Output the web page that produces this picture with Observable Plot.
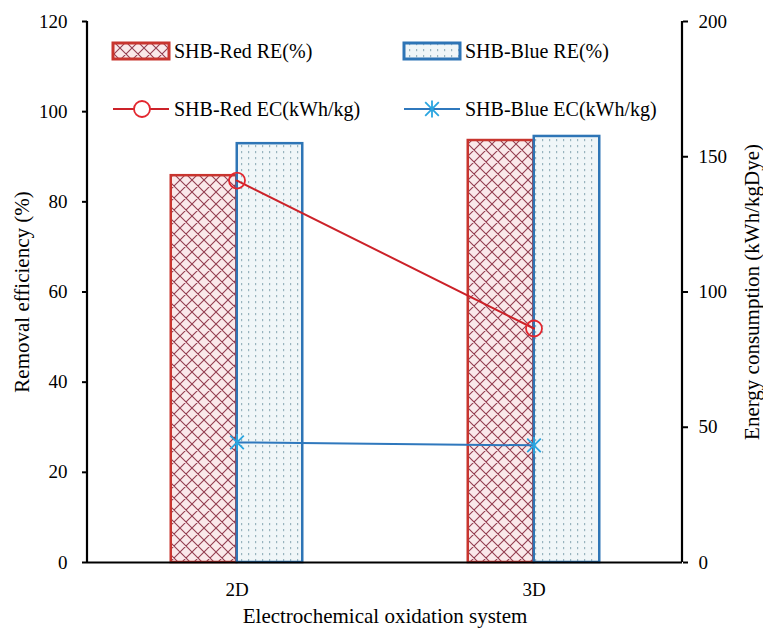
<!DOCTYPE html>
<html><head><meta charset="utf-8">
<script src="https://cdn.jsdelivr.net/npm/d3@7"></script>
<script src="https://cdn.jsdelivr.net/npm/@observablehq/plot@0.6"></script>
<style>body{margin:0;background:#fff}</style>
</head><body><div id="chart"></div>
<script>
// ---- data ----
const categories = ["2D", "3D"];
const redRE = [85.8, 93.6];
const blueRE = [92.9, 94.5];
const redEC = [141.2, 86.5];
const blueEC = [44.4, 43.3];
const leftTicks = [0, 20, 40, 60, 80, 100, 120];
const rightTicks = [0, 50, 100, 150, 200];
const seriesNames = ["SHB-Red RE(%)", "SHB-Blue RE(%)", "SHB-Red EC(kWh/kg)", "SHB-Blue EC(kWh/kg)"];
const titles = {x: "Electrochemical oxidation system", y: "Removal efficiency (%)", y2: "Energy consumption (kWh/kgDye)"};

// ---- layout ----
const W = 763, H = 630, mL = 87, mR = 81, mT = 21, mB = 68;
const ecMax = 200, reMax = 120, ecScale = reMax / ecMax;
const bandW = (W - mL - mR) / categories.length;
const barW = 66;
const FONT = "'Liberation Serif', 'Times New Roman', serif";
const RED = "#c8352f", RED_LINE = "#cc2229", RED_MK = "#e3262e";
const BLUE = "#2e75b6", BLUE_LINE = "#2f78bd", BLUE_MK = "#2aa5e0";
const NS = "http://www.w3.org/2000/svg";

const rows = (vals) => categories.map((c, i) => ({cat: c, v: vals[i]}));
const redRows = rows(redRE), blueRows = rows(blueRE);
const redECRows = rows(redEC), blueECRows = rows(blueEC);

function el(tag, attrs, parent) {
  const e = document.createElementNS(NS, tag);
  for (const k in attrs) e.setAttribute(k, attrs[k]);
  if (parent) parent.appendChild(e);
  return e;
}

const asterisk = {
  draw(ctx, size) {
    const r = Math.sqrt(size / Math.PI);
    const d = r * 0.85;
    ctx.moveTo(-d, -d); ctx.lineTo(d, d);
    ctx.moveTo(d, -d); ctx.lineTo(-d, d);
    ctx.moveTo(0, -r * 1.05); ctx.lineTo(0, r * 1.05);
  }
};

function defsMark() {
  const defs = el("defs", {});
  const p1 = el("pattern", {id: "redPat", width: 12, height: 12, patternUnits: "userSpaceOnUse"}, defs);
  el("rect", {width: 12, height: 12, fill: "#fae9ea"}, p1);
  el("path", {d: "M0,0L12,12M12,0L0,12M-1,11L1,13M11,-1L13,1M-1,1L1,-1M11,13L13,11", stroke: "#933e50", "stroke-width": 1.1, fill: "none"}, p1);
  const p2 = el("pattern", {id: "bluePat", width: 7, height: 6, patternUnits: "userSpaceOnUse"}, defs);
  el("rect", {width: 7, height: 6, fill: "#f0f6f8"}, p2);
  el("rect", {x: 3, y: 1, width: 1.2, height: 2.2, fill: "#98b4be"}, p2);
  return defs;
}

function frameLines() {
  const g = el("g", {stroke: "#000", "stroke-width": 2.2});
  el("line", {x1: mL, x2: mL, y1: mT, y2: H - mB}, g);
  el("line", {x1: W - mR, x2: W - mR, y1: mT, y2: H - mB}, g);
  return g;
}

function legendMark() {
  const g = el("g", {"font-family": FONT, "font-size": 20, fill: "#000", "text-anchor": "start"});
  const cols = [113, 404], r1 = 51, r2 = 109;
  // row 1: bar swatches
  el("rect", {x: cols[0], y: r1 - 8, width: 56, height: 16, fill: "url(#redPat)", stroke: RED, "stroke-width": 3}, g);
  el("rect", {x: cols[1], y: r1 - 8, width: 56, height: 16, fill: "url(#bluePat)", stroke: BLUE, "stroke-width": 3}, g);
  // row 2: line swatches
  el("line", {x1: cols[0], x2: cols[0] + 56, y1: r2, y2: r2, stroke: RED_LINE, "stroke-width": 2}, g);
  el("circle", {cx: cols[0] + 29, cy: r2, r: 8, fill: "#fff", stroke: RED_MK, "stroke-width": 1.8}, g);
  el("line", {x1: cols[1], x2: cols[1] + 56, y1: r2, y2: r2, stroke: BLUE_LINE, "stroke-width": 2}, g);
  const p = d3.path(); asterisk.draw(p, 64 * Math.PI);
  el("path", {d: p.toString(), transform: `translate(${cols[1] + 28},${r2})`, stroke: BLUE_MK, "stroke-width": 1.8, fill: "none"}, g);
  const labels = [[cols[0], r1, seriesNames[0]], [cols[1], r1, seriesNames[1]], [cols[0], r2, seriesNames[2]], [cols[1], r2, seriesNames[3]]];
  for (const [x, y, t] of labels) {
    const tx = el("text", {x: x + 61, y: y, dy: "0.35em", "text-anchor": "start"}, g);
    tx.textContent = t;
  }
  return g;
}

const chart = Plot.plot({
  width: W, height: H,
  marginLeft: mL, marginRight: mR, marginTop: mT, marginBottom: mB,
  style: {fontFamily: FONT, fontSize: "19px", color: "#000", background: "#fff"},
  x: {domain: categories, padding: 0, axis: null},
  y: {domain: [0, reMax], axis: null},
  marks: [
    defsMark,
    Plot.barY(redRows, {x: "cat", y: "v", fill: "url(#redPat)", stroke: RED, strokeWidth: 2.5,
      insetLeft: bandW / 2 - barW, insetRight: bandW / 2}),
    Plot.barY(blueRows, {x: "cat", y: "v", fill: "url(#bluePat)", stroke: BLUE, strokeWidth: 2.5,
      insetLeft: bandW / 2, insetRight: bandW / 2 - barW}),
    Plot.ruleY([0], {stroke: "#000", strokeWidth: 2.2}),
    Plot.line(redECRows, {x: "cat", y: d => d.v * ecScale, stroke: RED_LINE, strokeWidth: 2}),
    Plot.dot(redECRows, {x: "cat", y: d => d.v * ecScale, r: 8, stroke: RED_MK, strokeWidth: 1.8, fill: "none"}),
    Plot.line(blueECRows, {x: "cat", y: d => d.v * ecScale, stroke: BLUE_LINE, strokeWidth: 2}),
    Plot.dot(blueECRows, {x: "cat", y: d => d.v * ecScale, r: 8, symbol: asterisk, stroke: BLUE_MK, strokeWidth: 1.8}),
    Plot.axisY({ticks: leftTicks, tickSize: 5, tickPadding: 15, strokeWidth: 2, fontSize: 19, label: null, tickFormat: d => d}),
    Plot.axisY({anchor: "right", ticks: rightTicks.map(v => v * ecScale), tickSize: 5, tickPadding: 11, strokeWidth: 2, fontSize: 19, label: null,
      tickFormat: d => Math.round(d / ecScale)}),
    Plot.axisX({tickSize: 0, tickPadding: 20, fontSize: 19, label: null}),
    frameLines,
    legendMark,
    Plot.text([titles.x], {text: d => d, frameAnchor: "bottom", dy: 60, fontSize: 21, textAnchor: "middle"}),
    Plot.text([titles.y], {text: d => d, frameAnchor: "left", dx: 22 - mL, rotate: -90, fontSize: 21, textAnchor: "middle"}),
    Plot.text([titles.y2], {text: d => d, frameAnchor: "right", dx: 752 - (W - mR), rotate: -90, fontSize: 21, textAnchor: "middle"})
  ]
});
document.getElementById("chart").appendChild(chart);
</script>
</body></html>
